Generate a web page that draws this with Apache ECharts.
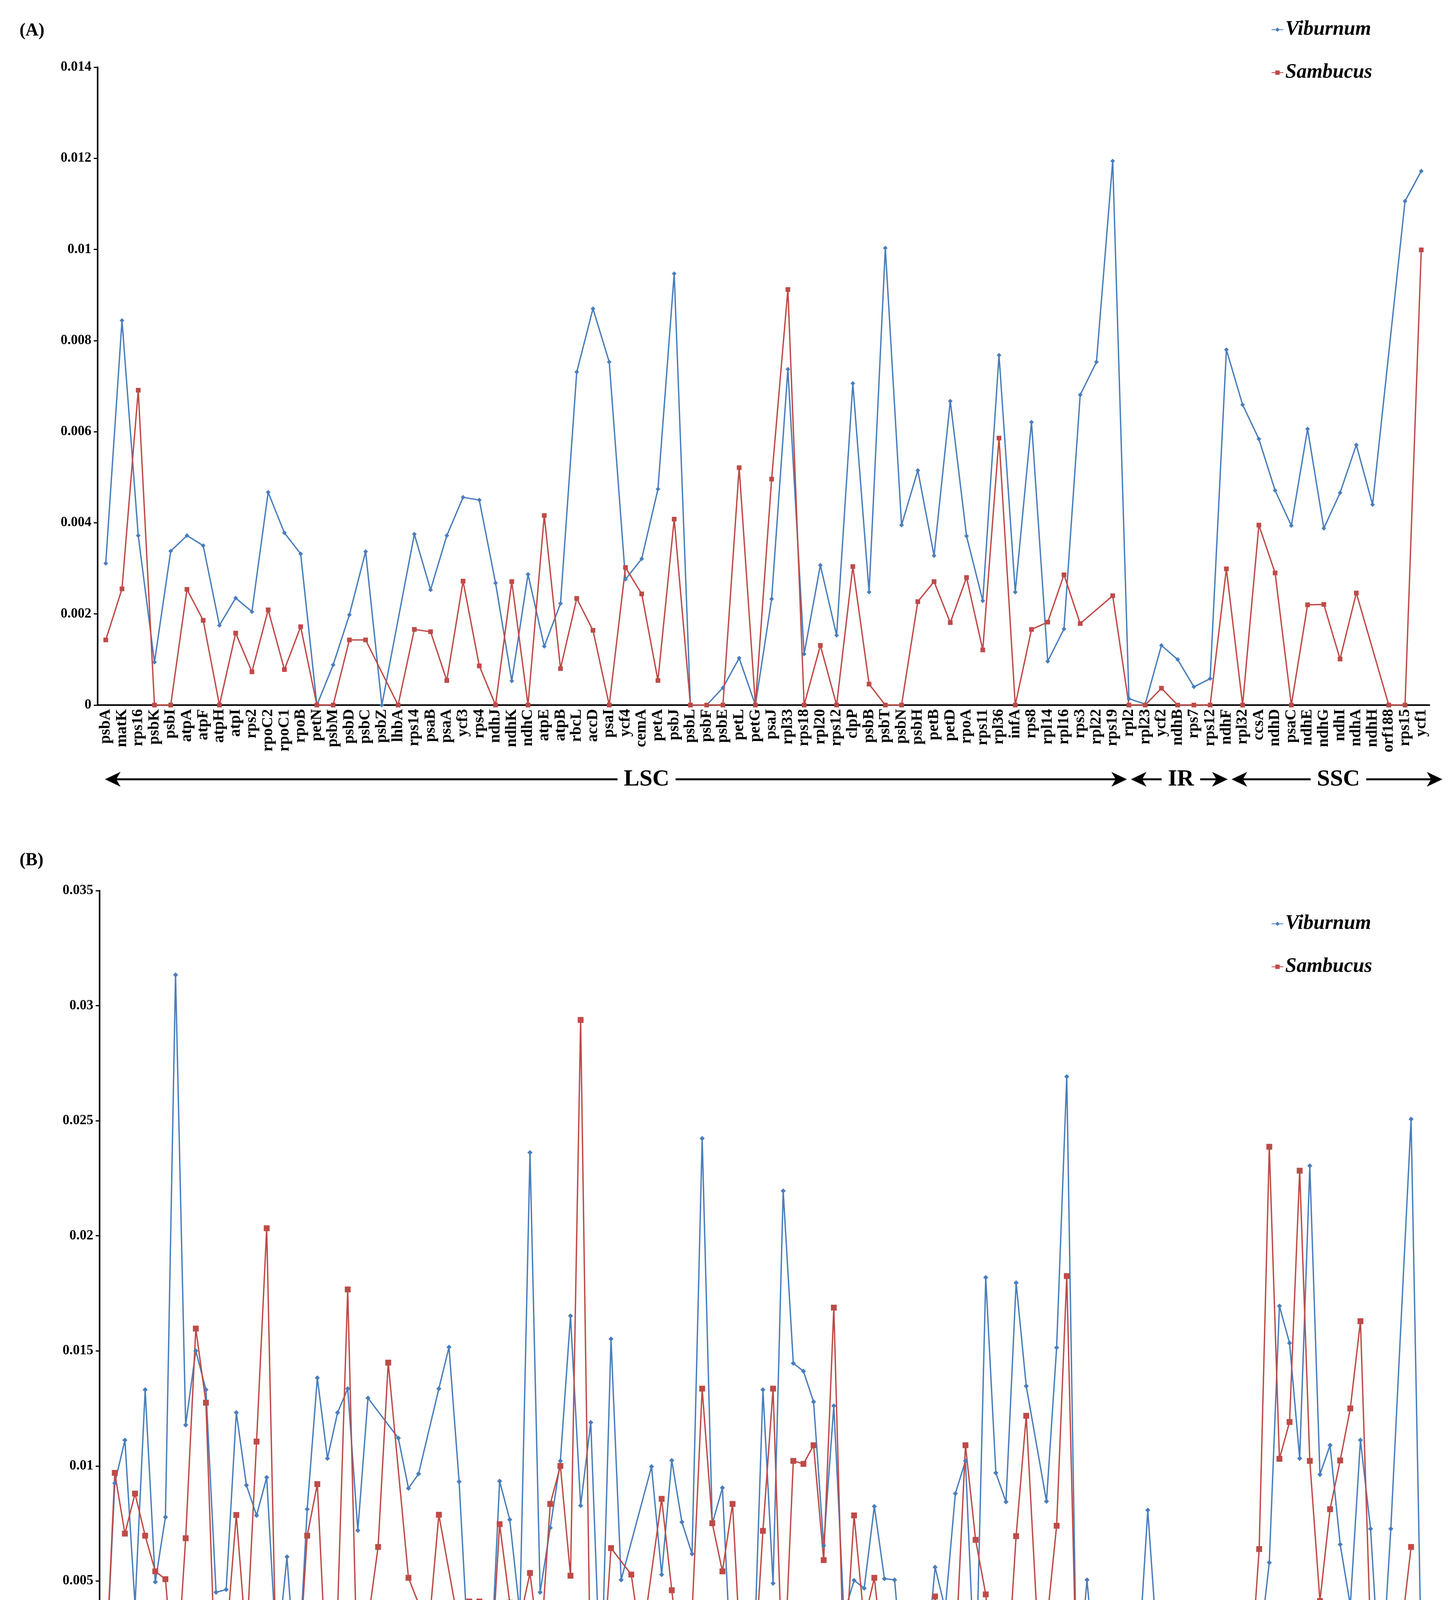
<!DOCTYPE html>
<html>
<head>
<meta charset="utf-8">
<title>Nucleotide diversity - Viburnum vs Sambucus</title>
<script src="https://cdn.jsdelivr.net/npm/echarts@6/dist/echarts.min.js"></script>
<style>
html, body { margin: 0; padding: 0; background: #fff; }
#chart { width: 3723px; height: 4640px; }
</style>
</head>
<body>
<div id="chart"></div>
<script>
// (A) coding regions
const genesA = ['psbA','matK','rps16','psbK','psbI','atpA','atpF','atpH','atpI','rps2',
  'rpoC2','rpoC1','rpoB','petN','psbM','psbD','psbC','psbZ','lhbA','rps14',
  'psaB','psaA','ycf3','rps4','ndhJ','ndhK','ndhC','atpE','atpB','rbcL',
  'accD','psaI','ycf4','cemA','petA','psbJ','psbL','psbF','psbE','petL',
  'petG','psaJ','rpl33','rps18','rpl20','rps12','clpP','psbB','psbT','psbN',
  'psbH','petB','petD','rpoA','rps11','rpl36','infA','rps8','rpl14','rpl16',
  'rps3','rpl22','rps19','rpl2','rpl23','ycf2','ndhB','rps7','rps12','ndhF',
  'rpl32','ccsA','ndhD','psaC','ndhE','ndhG','ndhI','ndhA','ndhH','orf188',
  'rps15','ycf1'];

const viburnumA = [0.00311, 0.00844, 0.00372, 0.00094, 0.00338, 0.00372, 0.0035, 0.00175, 0.00235, 0.00205,
  0.00467, 0.00378, 0.00332, 0, 0.00088, 0.00198, 0.00337, 0, null, 0.00375,
  0.00253, 0.00372, 0.00456, 0.0045, 0.00268, 0.00053, 0.00287, 0.00129, 0.00223, 0.00731,
  0.0087, 0.00753, 0.00276, 0.00321, 0.00474, 0.00947, 0, 0, 0.00038, 0.00103,
  0, 0.00233, 0.00737, 0.00112, 0.00307, 0.00153, 0.00706, 0.00248, 0.01003, 0.00395,
  0.00515, 0.00328, 0.00667, 0.00371, 0.00229, 0.00768, 0.00248, 0.00621, 0.00096, 0.00167,
  0.00681, 0.00753, 0.01194, 0.00014, 0.00002, 0.00131, 0.001, 0.0004, 0.00058, 0.0078,
  0.00659, 0.00584, 0.00471, 0.00394, 0.00606, 0.00388, 0.00466, 0.00571, 0.0044, null,
  0.01106, 0.01172];

const sambucusA = [0.00143, 0.00255, 0.00691, 0, 0, 0.00254, 0.00186, 0, 0.00158, 0.00073,
  0.00209, 0.00078, 0.00172, 0, 0, 0.00143, 0.00143, null, 0, 0.00166,
  0.00161, 0.00054, 0.00272, 0.00086, 0, 0.00271, 0, 0.00416, 0.0008, 0.00234,
  0.00164, 0, 0.00302, 0.00244, 0.00054, 0.00408, 0, 0, 0, 0.00521,
  0, 0.00496, 0.00912, 0, 0.00131, 0, 0.00304, 0.00046, 0, 0,
  0.00227, 0.00271, 0.00181, 0.0028, 0.00121, 0.00586, 0, 0.00166, 0.00182, 0.00286,
  0.00179, null, 0.0024, 0, 0, 0.00037, 0, 0, 0, 0.00299,
  0, 0.00395, 0.0029, 0, 0.0022, 0.00221, 0.00101, 0.00246, null, 0,
  0, 0.00999];

// (B) non-coding regions
const regionsB = ['IGS trnH-psbA','IGS psbA-matK','IGS matK-rps16','rps16 intron','IGS rps16-trnQ',
  'IGS trnQ-psbK','IGS psbK-psbI','IGS psbI-trnS','IGS trnS-trnG','IGS trnG-trnR',
  'IGS trnR-atpA','IGS atpA-atpF','atpF intron','IGS atpF-atpH','IGS atpH-atpI',
  'IGS atpI-rps2','IGS rps2-rpoC2','IGS rpoC2-rpoC1','rpoC1 intron','IGS rpoC1-rpoB',
  'IGS rpoB-trnC','IGS trnC-petN','IGS petN-psbM','IGS psbM-trnD','IGS trnD-trnY',
  'IGS trnY-trnE','IGS trnE-trnT','IGS trnE-trnM','IGS trnM-psbD','IGS trnT-psbD',
  'IGS psbC-trnS','IGS trnS-psbZ','IGS trnS-lhbA','IGS lhbA-trnG','IGS psbZ-trnG',
  'IGS trnG-trnfM','IGS trnfM-rps14','IGS rps14-psaB','IGS psaB-psaA','IGS psaA-ycf3',
  'ycf3 intron1','ycf3 intron2','IGS ycf3-trnS','IGS trnS-rps4','IGS rps4-trnT',
  'IGS trnT-trnL','IGS trnL-trnF','IGS trnF-ndhJ','IGS ndhJ-ndhK','IGS ndhK-ndhC',
  'IGS ndhC-trnV','IGS trnV-trnM','IGS trnV-trnT','IGS trnT-atpE','IGS trnM-atpE',
  'IGS atpB-rbcL','IGS rbcL-accD','IGS accD-psaI','IGS psaI-ycf4','IGS ycf4-cemA',
  'IGS cemA-petA','IGS petA-psbJ','IGS psbJ-psbL','IGS psbL-psbF','IGS psbF-psbE',
  'IGS psbE-petL','IGS petL-petG','IGS petG-trnW','IGS trnW-trnP','IGS trnP-psaJ',
  'IGS psaJ-rpl33','IGS rpl33-rps18','IGS rps18-rpl20','IGS rpl20-rps12','IGS rps12-clpP',
  'clpP intron1','clpP intron2','IGS clpP-psbB','IGS psbB-psbT','IGS psbT-psbN',
  'IGS psbN-psbH','IGS psbH-petB','petB intron','IGS petB-petD','petD intron',
  'IGS petD-rpoA','IGS rpoA-rps11','IGS rps11-rpl36','IGS rpl36-infA','IGS infA-rps8',
  'IGS rps8-rpl14','IGS rpl14-rpl16','rpl16 intron','IGS rpl16-rps3','IGS rpl22-rps19',
  'IGS rps19-rpl2','rpl2 intron','IGS rpl2-rpl23','IGS rpl23-trnI','IGS trnI-ycf2',
  'IGS ycf2-trnL','IGS trnL-ndhB','ndhB intron','IGS ndhB-rps7','IGS rps7-rps12',
  'rps12 intron','IGS rps12-trnV','IGS trnV-rrn16','IGS rrn16-trnI','IGS trnI-trnA',
  'IGS trnA-rrn23','IGS rrn23-rrn4.5','IGS rrn4.5-rrn5','IGS rrn5-trnR','IGS trnR-trnN',
  'IGS trnN-ndhF','IGS ndhF-rpl32','IGS rpl32-trnL','IGS trnL-ccsA','IGS ccsA-ndhD',
  'IGS ndhD-psaC','IGS psaC-ndhE','IGS ndhE-ndhG','IGS ndhG-ndhI','IGS ndhI-ndhA',
  'ndhA intron','IGS ndhA-ndhH','IGS ndhH-rps15','IGS ndhA-rps15','IGS rps15-ycf1',
  'IGS ycf1-trnN'];

const viburnumB = [0, 0.00925, 0.01112, 0.00395, 0.01331, 0.00496, 0.00778, 0.03134, 0.01178, 0.015,
  0.01331, 0.00451, 0.00463, 0.01232, 0.00916, 0.00785, 0.0095, 0.00162, 0.00605, 0,
  0.00812, 0.01383, 0.01033, 0.01232, 0.01336, 0.0072, 0.01295, null, null, 0.01121,
  0.00903, 0.00966, null, 0.01336, 0.01516, 0.00932, 0.0012, 0, 0, 0.00934,
  0.00767, 0.00361, 0.02362, 0.00451, 0.00731, 0.01022, 0.01652, 0.00828, 0.01189, 0,
  0.01552, 0.00505, null, null, 0.00997, 0.00528, 0.01024, 0.00756, 0.00618, 0.02423,
  0.00749, 0.00905, 0, 0, 0, 0.01331, 0.0049, 0.02195, 0.01446, 0.01412,
  0.01279, 0.00654, 0.01261, 0.00356, 0.00503, 0.00469, 0.00824, 0.0051, 0.00505, 0,
  0, 0.00083, 0.0056, 0.00377, 0.0088, 0.01022, 0, 0.01819, 0.0097, 0.00844,
  0.01796, 0.01347, null, 0.00846, 0.01514, 0.02692, 0, 0.00505, 0, 0,
  0.00072, 0.00214, 0.00095, 0.00808, 0.00176, 0.00086, 0.00338, 0.00047, 0.00235, 0,
  0.00359, 0, 0.0005, 0.00151, 0.00196, 0.0058, 0.01695, 0.01534, 0.01033, 0.02304,
  0.00963, 0.0109, 0.00659, 0.00395, 0.01112, 0.00727, 0, 0.00727, null, 0.02507,
  0.0018];

const sambucusB = [0, 0.0097, 0.00706, 0.0088, 0.00697, 0.00542, 0.00508, 0, 0.00686, 0.01597,
  0.01275, 0, 0.00239, 0.00787, 0.00226, 0.01106, 0.02033, 0, 0.00156, 0,
  0.00697, 0.00921, 0, 0.0037, 0.01767, 0, null, 0.00648, 0.01449, null,
  0.00514, null, 0.00289, 0.00788, null, 0.00298, 0.00411, 0.00411, 0, 0.00747,
  0.00406, 0.00332, 0.00535, 0.00174, 0.00835, 0.01, 0.00523, 0.02938, 0, 0,
  0.00643, null, 0.00528, 0.00219, null, 0.00857, 0.0046, 0.00079, 0.00356, 0.01336,
  0.00751, 0.00542, 0.00835, 0, 0, 0.00718, 0.01336, 0, 0.01022, 0.01009,
  0.0109, 0.00591, 0.01688, 0.0009, 0.00785, 0.00323, 0.00514, 0.00111, 0, 0,
  0, 0, 0.00433, 0, 0.00162, 0.0109, 0.00679, 0.00442, 0, 0,
  0.00695, 0.01218, 0.00397, 0.00305, 0.0074, 0.01825, 0, 0, 0, 0,
  0.00402, 0, 0, 0, 0, 0, 0.00185, 0, 0, 0,
  0, 0, 0, 0, 0.00639, 0.02387, 0.01031, 0.01191, 0.02283, 0.01022,
  0.00413, 0.00812, 0.01024, 0.0125, 0.01629, 0.00266, null, null, 0.00266, 0.00648,
  null];

// LSC / IR / SSC spans, given as (fractional) category positions
const regionNames = ['LSC', 'IR', 'SSC'];
const bordersA = [-0.05, 63.0, 69.2, 82.3];
const centresA = [33.3, 66.2, 75.9];
const bordersB = [-0.17, 94.85, 115.5, 130.9];
const centresB = [49.5, 106.1, 122.9];

const serif = '"Liberation Serif", "Times New Roman", serif';
const blue = '#4a7ebb';
const red = '#be4b48';

const chart = echarts.init(document.getElementById('chart'));

function lineSeries(name, data, idx, color, symbol, size) {
    return {
        name: name,
        type: 'line',
        data: data,
        xAxisIndex: idx,
        yAxisIndex: idx,
        connectNulls: true,
        symbol: symbol,
        symbolSize: size,
        lineStyle: { color: color, width: 3.5 },
        itemStyle: { color: color },
        emphasis: { disabled: true },
        animation: false
    };
}

function xAxis(idx, data, fontSize) {
    return {
        type: 'category',
        gridIndex: idx,
        data: data,
        axisLine: { lineStyle: { color: '#000', width: 4 } },
        axisTick: { length: 10, lineStyle: { color: '#000', width: 3 } },
        axisLabel: {
            interval: 0, rotate: 90, color: '#000', margin: 10,
            fontFamily: serif, fontWeight: 'bold', fontSize: fontSize
        }
    };
}

function yAxis(idx, max, interval) {
    return {
        type: 'value',
        gridIndex: idx,
        min: 0, max: max, interval: interval,
        axisLine: { show: true, lineStyle: { color: '#000', width: 4 } },
        axisTick: { show: true, length: 10, lineStyle: { color: '#000', width: 3 } },
        splitLine: { show: false },
        axisLabel: { color: '#000', margin: 16, fontFamily: serif, fontWeight: 'bold', fontSize: 35 }
    };
}

function legend(top) {
    return {
        data: ['Viburnum', 'Sambucus'],
        orient: 'vertical',
        left: 3250, top: top,
        itemWidth: 30, itemHeight: 14, itemGap: 58,
        textStyle: { color: '#000', fontFamily: serif, fontStyle: 'italic', fontWeight: 'bold', fontSize: 52 }
    };
}

chart.setOption({
    animation: false,
    backgroundColor: '#fff',
    grid: [
        { left: 250, top: 172, width: 3410, height: 1633 },
        { left: 255, top: 2280, width: 3397, height: 2062 }
    ],
    legend: [legend(45), legend(2334)],
    xAxis: [xAxis(0, genesA, 40), xAxis(1, regionsB, 19)],
    yAxis: [yAxis(0, 0.014, 0.002), yAxis(1, 0.035, 0.005)],
    series: [
        lineSeries('Viburnum', viburnumA, 0, blue, 'diamond', 12),
        lineSeries('Sambucus', sambucusA, 0, red, 'rect', 12),
        lineSeries('Viburnum', viburnumB, 1, blue, 'diamond', 13),
        lineSeries('Sambucus', sambucusB, 1, red, 'rect', 15)
    ]
});

// arrows with the genome region names, placed through the category axes
function head(x, y, dir) {
    const L = 40, H = 19;
    return {
        type: 'polygon', z: 6, silent: true,
        shape: { points: [[x, y], [x + dir * L, y - H], [x + dir * L * 0.72, y], [x + dir * L, y + H]] },
        style: { fill: '#000' }
    };
}

function regionGraphics(idx, borders, centres, y) {
    const p0 = chart.convertToPixel({ xAxisIndex: idx }, 0);
    const p1 = chart.convertToPixel({ xAxisIndex: idx }, 1);
    const px = f => p0 + f * (p1 - p0);
    const els = [];
    for (let k = 0; k < regionNames.length; k++) {
        const x1 = px(borders[k]) + (k > 0 ? 5 : 0);
        const x2 = px(borders[k + 1]) - (k < regionNames.length - 1 ? 5 : 0);
        els.push({
            type: 'line', z: 5, silent: true,
            shape: { x1: x1 + 25, y1: y, x2: x2 - 25, y2: y },
            style: { stroke: '#000', lineWidth: 5 }
        });
        els.push(head(x1, y, 1), head(x2, y, -1));
        els.push({
            type: 'text', z: 10, silent: true,
            style: {
                text: regionNames[k], x: px(centres[k]), y: y,
                align: 'center', verticalAlign: 'middle',
                fontFamily: serif, fontWeight: 'bold', fontSize: 60, fill: '#000',
                backgroundColor: '#fff', padding: [4, 16]
            }
        });
    }
    return els;
}

const panelTitles = [
    { type: 'text', left: 50, top: 56, style: { text: '(A)', fontFamily: serif, fontWeight: 'bold', fontSize: 46, fill: '#000' } },
    { type: 'text', left: 50, top: 2180, style: { text: '(B)', fontFamily: serif, fontWeight: 'bold', fontSize: 46, fill: '#000' } }
];

chart.setOption({
    graphic: panelTitles
        .concat(regionGraphics(0, bordersA, centresA, 1995))
        .concat(regionGraphics(1, bordersB, centresB, 4610))
});
</script>
</body>
</html>
